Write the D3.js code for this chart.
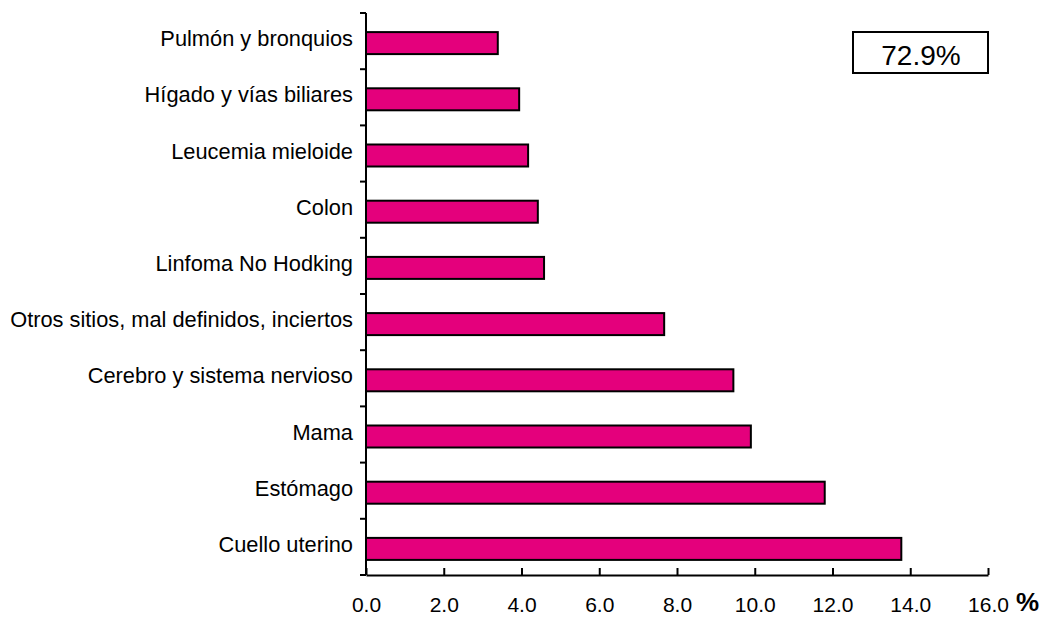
<!DOCTYPE html>
<html><head><meta charset="utf-8">
<script src="https://cdn.jsdelivr.net/npm/d3@7"></script>
<style>body{margin:0;background:#fff}text{font-family:"Liberation Sans",Arial,sans-serif}</style>
</head><body><svg id="c" width="1044" height="617"></svg>
<script>
const categories = ["Pulmón y bronquios","Hígado y vías biliares","Leucemia mieloide","Colon","Linfoma No Hodking","Otros sitios, mal definidos, inciertos","Cerebro y sistema nervioso","Mama","Estómago","Cuello uterino"];
const values = [3.39,3.94,4.17,4.42,4.58,7.67,9.45,9.9,11.8,13.77];
const xTicks = [0,2,4,6,8,10,12,14,16];
const totalLabel = "72.9%";

const svg = d3.select("#c");
const x = d3.scaleLinear().domain([0,16]).range([366,988]);
const y = d3.scaleBand().domain(categories).range([13,575]).paddingInner(0).paddingOuter(0);
const barH = 22;

svg.selectAll("rect.bar").data(categories).enter().append("rect")
  .attr("x", x(0)).attr("y", d => y(d)+y.bandwidth()/2 - barH/2 + 2)
  .attr("width", (d,i) => x(values[i]) - x(0)).attr("height", barH)
  .attr("fill", "#E4007C").attr("stroke", "#000").attr("stroke-width", 2);

// y axis
svg.append("line").attr("x1",366).attr("x2",366).attr("y1",13).attr("y2",575).attr("stroke","#000").attr("stroke-width",2);
categories.forEach((c,i)=>{
  const yy = y(c)+y.bandwidth();
  svg.append("line").attr("x1",360).attr("x2",366).attr("y1",yy).attr("y2",yy).attr("stroke","#000").attr("stroke-width",2);
});
svg.append("line").attr("x1",360).attr("x2",366).attr("y1",13).attr("y2",13).attr("stroke","#000").attr("stroke-width",2);
svg.selectAll("text.cat").data(categories).enter().append("text")
  .attr("x",353).attr("y",d=>y(d)+y.bandwidth()/2+5)
  .attr("text-anchor","end").attr("font-size",21.8).attr("fill","#000").text(d=>d);

// x axis
const xa = svg.append("g").attr("transform","translate(0,575)")
  .call(d3.axisBottom(x).tickValues(xTicks).tickFormat(d3.format(".1f")).tickSize(7).tickSizeOuter(0));
xa.select(".domain").attr("stroke","#000").attr("stroke-width",2);
xa.selectAll(".tick line").attr("stroke","#000").attr("stroke-width",2).attr("y1",-7).attr("y2",0);
xa.selectAll(".tick text").attr("font-size",21).attr("font-family","Liberation Sans, Arial, sans-serif").attr("y",37).attr("dy",0).attr("fill","#000");
svg.append("text").attr("x",1016).attr("y",611).attr("font-size",26).attr("font-weight","bold").attr("fill","#000").text("%");

// box
svg.append("rect").attr("x",853).attr("y",32).attr("width",135).attr("height",41).attr("fill","#fff").attr("stroke","#000").attr("stroke-width",2);
svg.append("text").attr("x",921).attr("y",65).attr("text-anchor","middle").attr("font-size",28).attr("fill","#000").text(totalLabel);
</script></body></html>
